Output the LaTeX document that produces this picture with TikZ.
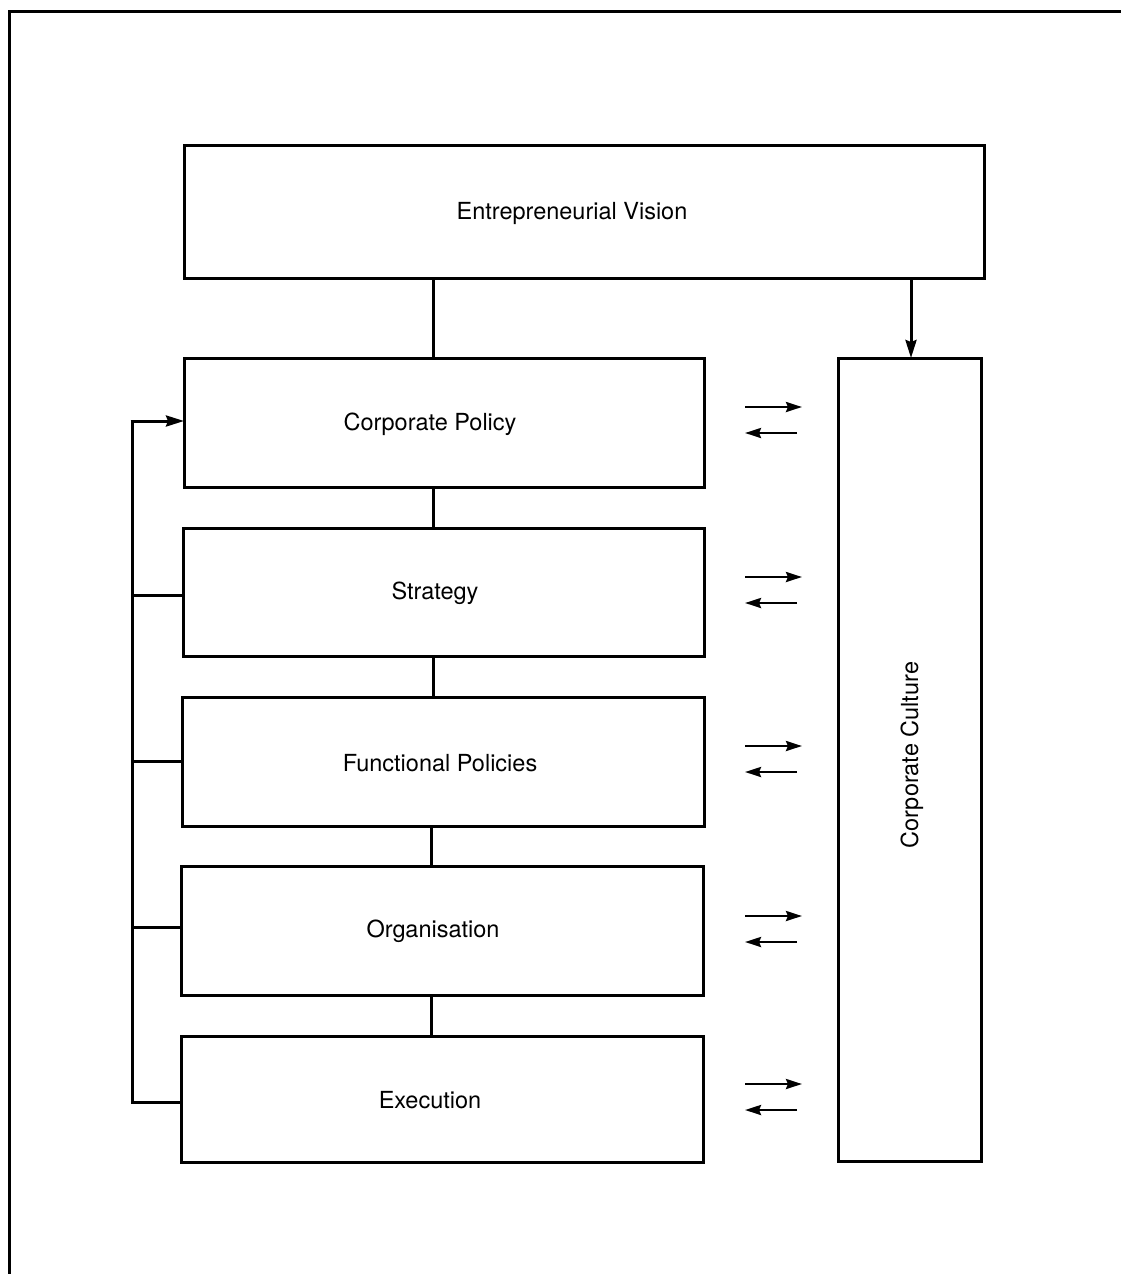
\documentclass[tikz,border=0pt]{standalone}
\usepackage{fontspec}
\setmainfont{TeX Gyre Heros}
\usetikzlibrary{arrows.meta}
\begin{document}
\begin{tikzpicture}[x=1pt,y=-1pt,
  box/.style={draw,line width=3pt,inner sep=0pt,outer sep=0pt},
  lbl/.style={font=\fontsize{23.5}{28}\selectfont,inner sep=0pt},
  con/.style={line width=3pt},
  arr/.style={line width=3pt,-{Stealth[length=18pt,width=11pt,inset=2pt]}},
  sarr/.style={line width=2.6pt,-{Stealth[length=16pt,width=10pt,inset=2pt]}}]
\useasboundingbox (0,0) rectangle (1121,1274);
% outer frame (top and left edges only)
\draw[line width=3pt] (9,1274) -- (9,11) -- (1121,11);
% boxes
\node[box,minimum width=800pt,minimum height=133pt] (vis) at (584,211.5) {};
\node[box,minimum width=520pt,minimum height=129pt] (cp) at (444,422.5) {};
\node[box,minimum width=521pt,minimum height=128pt] (st) at (443.5,592) {};
\node[box,minimum width=522pt,minimum height=129pt] (fp) at (443,761.5) {};
\node[box,minimum width=522pt,minimum height=129pt] (org) at (442,930.5) {};
\node[box,minimum width=522pt,minimum height=126pt] (ex) at (442,1099) {};
\node[box,minimum width=143pt,minimum height=803pt] (cc) at (909.5,759.5) {};
% labels
\node[lbl] (tvis) at (572,213) {Entrepreneurial Vision};
\node[lbl] (tcp) at (430,424) {Corporate Policy};
\node[lbl] (tst) at (435,593) {Strategy};
\node[lbl] (tfp) at (440,763) {Functional Policies};
\node[lbl] (torg) at (433,931) {Organisation};
\node[lbl] (tex) at (430,1100) {Execution};
\node[lbl,rotate=90] (tcc) at (912,755) {Corporate Culture};
% vertical connectors
\draw[con] (vis.south -| 433,0) -- (cp.north -| 433,0);
\draw[con] (cp.south -| 433,0) -- (st.north -| 433,0);
\draw[con] (st.south -| 433,0) -- (fp.north -| 433,0);
\draw[con] (fp.south -| 431,0) -- (org.north -| 431,0);
\draw[con] (org.south -| 431,0) -- (ex.north -| 431,0);
\draw[arr] (vis.south -| 911,0) -- (cc.north -| 911,0);
% feedback loop
\coordinate (fb) at (132,1102);
\draw[con] (ex.west |- fb) -- (fb) -- (132,421);
\draw[arr] (130.5,421) -- (cp.west |- 0,421);
\draw[con] (132,595) -- (st.west |- 0,595);
\draw[con] (132,761) -- (fp.west |- 0,761);
\draw[con] (132,927) -- (org.west |- 0,927);
% exchange arrows
\foreach \n/\y in {cp/407,st/577,fp/746,org/916,ex/1084}{
  \coordinate (a\n) at (745,\y);
  \coordinate (b\n) at (802,\y);
  \coordinate (c\n) at (797,\y+26);
  \coordinate (d\n) at (745,\y+26);
  \draw[sarr] (a\n) -- (b\n);
  \draw[sarr] (c\n) -- (d\n);
}
\end{tikzpicture}
\end{document}
